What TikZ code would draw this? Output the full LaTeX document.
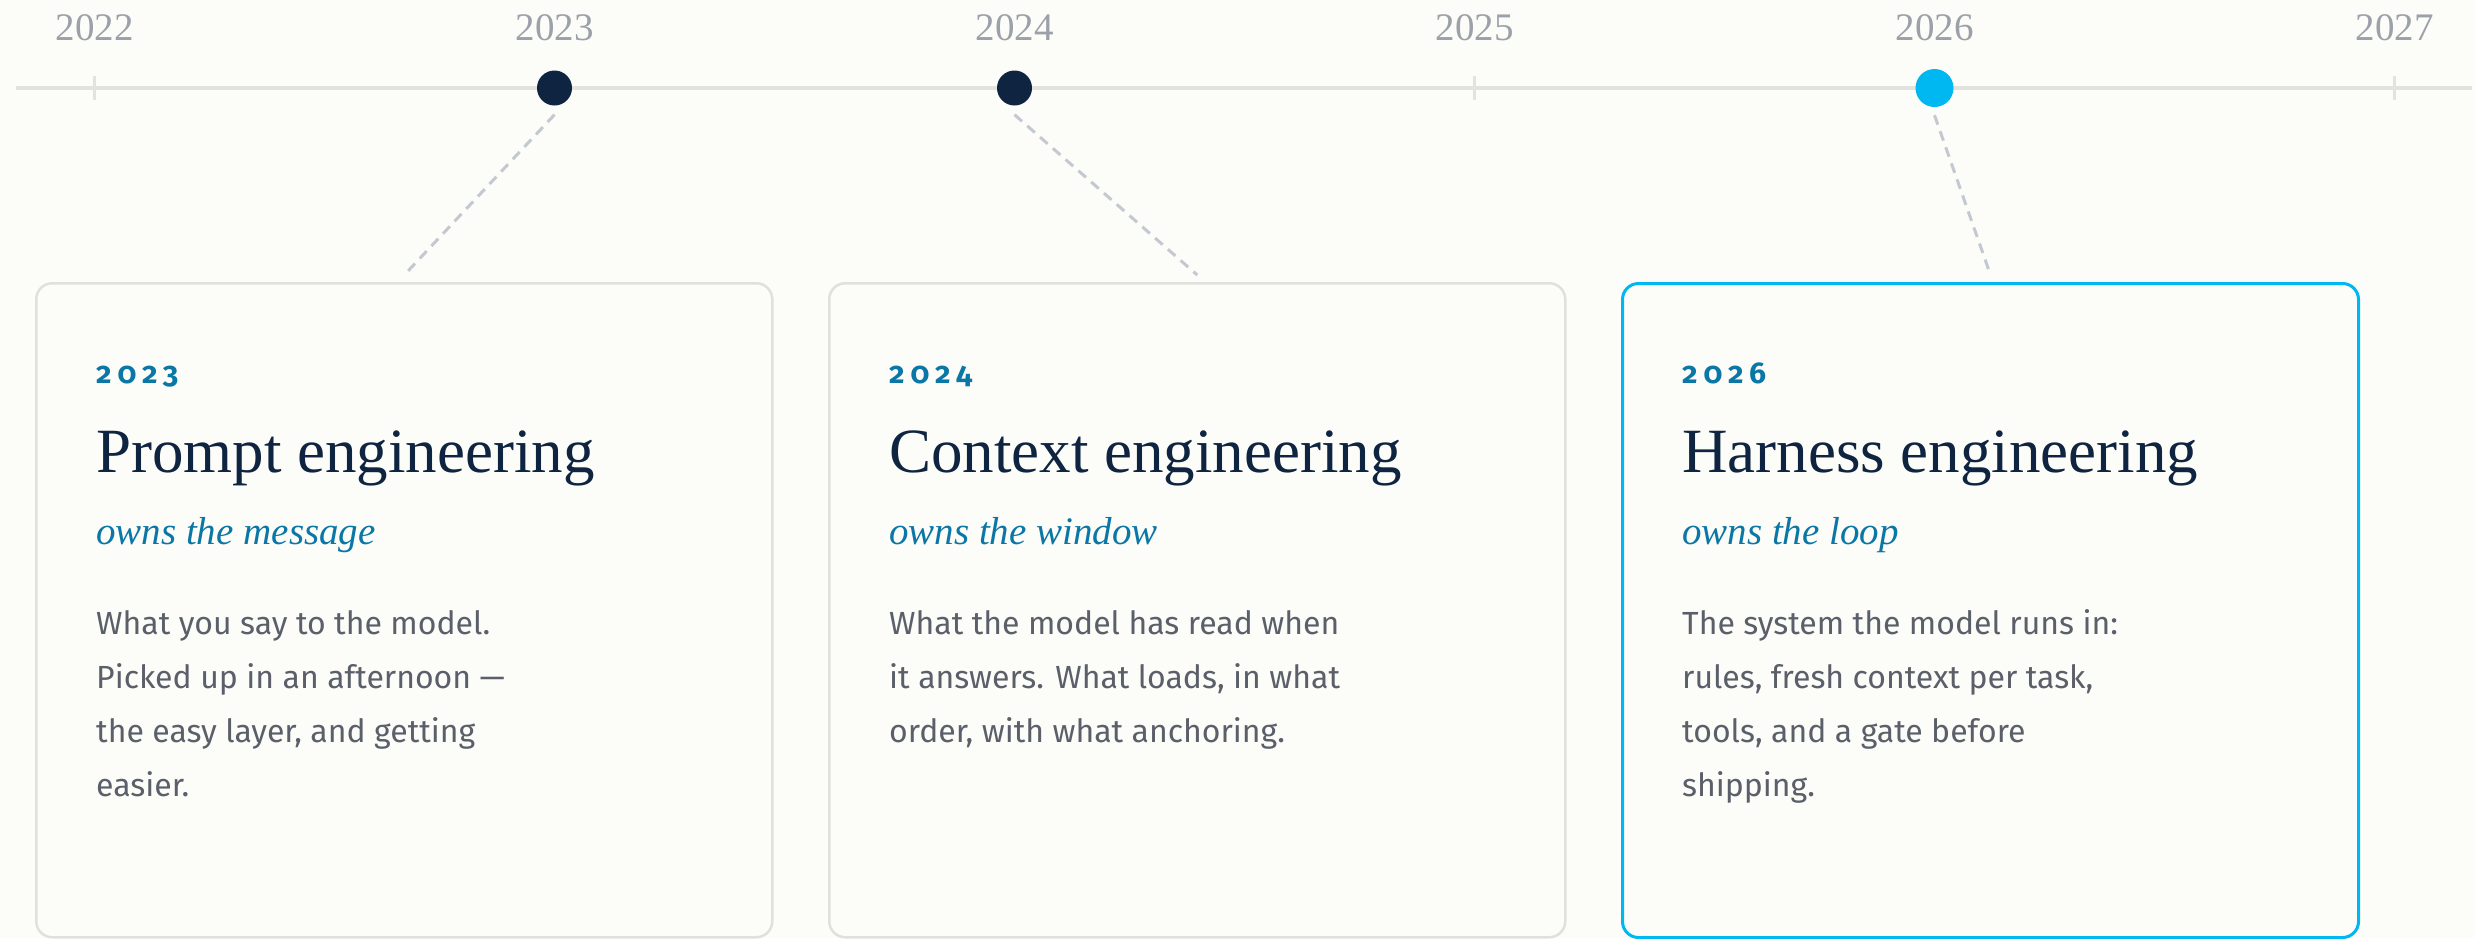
\documentclass[tikz,border=0pt]{standalone}
\usepackage{fontspec}
\setmainfont{Liberation Serif}
\newfontfamily\bodysans{Fira Sans}
\newfontfamily\yearsans[Numbers=OldStyle,LetterSpace=20]{Fira Sans}
\usetikzlibrary{calc}

\definecolor{paper}{HTML}{FCFCF8}
\definecolor{axisrule}{HTML}{E2E2DF}
\definecolor{inknavy}{HTML}{0F2440}
\definecolor{accentteal}{HTML}{0B77A6}
\definecolor{brightcyan}{HTML}{00B8F1}
\definecolor{bodygray}{HTML}{5A5F69}
\definecolor{axisgray}{HTML}{9CA1A9}
\definecolor{leadergray}{HTML}{C4C9D1}
\definecolor{cardline}{HTML}{E0E0DD}

\tikzset{
  axisyear/.style={anchor=base, inner sep=0, text=axisgray,
    font=\fontsize{39}{40}\selectfont},
  axistick/.style={axisrule, line width=2.5pt},
  milestone/.style={circle, fill=inknavy, minimum size=35pt, inner sep=0},
  nowstone/.style={circle, fill=brightcyan, minimum size=38pt, inner sep=0},
  leader/.style={leadergray, line width=3pt, dash pattern=on 10pt off 7pt},
  card/.style={draw=cardline, line width=2.5pt, rounded corners=16pt,
    fill=paper, minimum width=736pt, minimum height=654pt,
    anchor=north west, inner sep=0},
  nowcard/.style={card, draw=brightcyan, line width=3pt},
  cardyear/.style={anchor=base west, inner sep=0, text=accentteal,
    font=\yearsans\bfseries\fontsize{30}{30}\selectfont},
  cardtitle/.style={anchor=base west, inner sep=0, text=inknavy,
    font=\fontsize{63}{66}\selectfont},
  cardrole/.style={anchor=base west, inner sep=0, text=accentteal,
    font=\itshape\fontsize{39}{42}\selectfont},
  cardbody/.style={anchor=north west, inner sep=0, align=left, text=bodygray,
    font=\bodysans\fontsize{32}{54}\selectfont},
}

\begin{document}
\begin{tikzpicture}[x=1pt,y=-1pt]
  % page
  \fill[paper] (0,0) rectangle (2474,938);
  \useasboundingbox (0,0) rectangle (2474,938);

  % time axis
  \draw[axisrule, line width=3.5pt] (16,88) -- (2472,88);
  \foreach \yr/\x in {2022/94.5,2023/554.5,2024/1014.5,2025/1474.5,2026/1934.5,2027/2394.5}
    \node[axisyear] (lbl\yr) at (\x,40) {\yr};
  \foreach \x in {94.5,1474.5,2394.5}
    \draw[axistick] (\x,76) -- (\x,100);

  % milestones on the axis
  \node[milestone] (m23) at (554.5,88) {};
  \node[milestone] (m24) at (1014.5,88) {};
  \node[nowstone]  (m26) at (1934.5,88) {};

  % cards
  \node[card]    (c23) at (35,282)   {};
  \node[card]    (c24) at (828,282)  {};
  \node[nowcard] (c26) at (1621,282) {};

  % leaders from milestones to cards
  \draw[leader] ([yshift=-9pt]m23.south) -- ([yshift=7pt]c23.north);
  \draw[leader] ([yshift=-9pt]m24.south) -- ([yshift=7pt]c24.north);
  \draw[leader] ([yshift=-8pt]m26.south) -- ([yshift=7pt]c26.north);

  % card 2023
  \node[cardyear]  (y23) at (96,383) {2023};
  \node[cardtitle] (t23) at (96,472) {Prompt engineering};
  \node[cardrole]  (r23) at (96,544) {owns the message};
  \node[cardbody]  (b23) at (96,596.2) {\strut What you say to the model.\\
    \strut Picked up in an afternoon —\\
    \strut the easy layer, and getting\\
    \strut easier.};

  % card 2024
  \node[cardyear]  (y24) at (889,383) {2024};
  \node[cardtitle] (t24) at (889,472) {Context engineering};
  \node[cardrole]  (r24) at (889,544) {owns the window};
  \node[cardbody]  (b24) at (889,596.2) {\strut What the model has read when\\
    \strut it answers. What loads, in what\\
    \strut order, with what anchoring.};

  % card 2026
  \node[cardyear]  (y26) at (1682,383) {2026};
  \node[cardtitle] (t26) at (1682,472) {Harness engineering};
  \node[cardrole]  (r26) at (1682,544) {owns the loop};
  \node[cardbody]  (b26) at (1682,596.2) {\strut The system the model runs in:\\
    \strut rules, fresh context per task,\\
    \strut tools, and a gate before\\
    \strut shipping.};
\end{tikzpicture}
\end{document}
